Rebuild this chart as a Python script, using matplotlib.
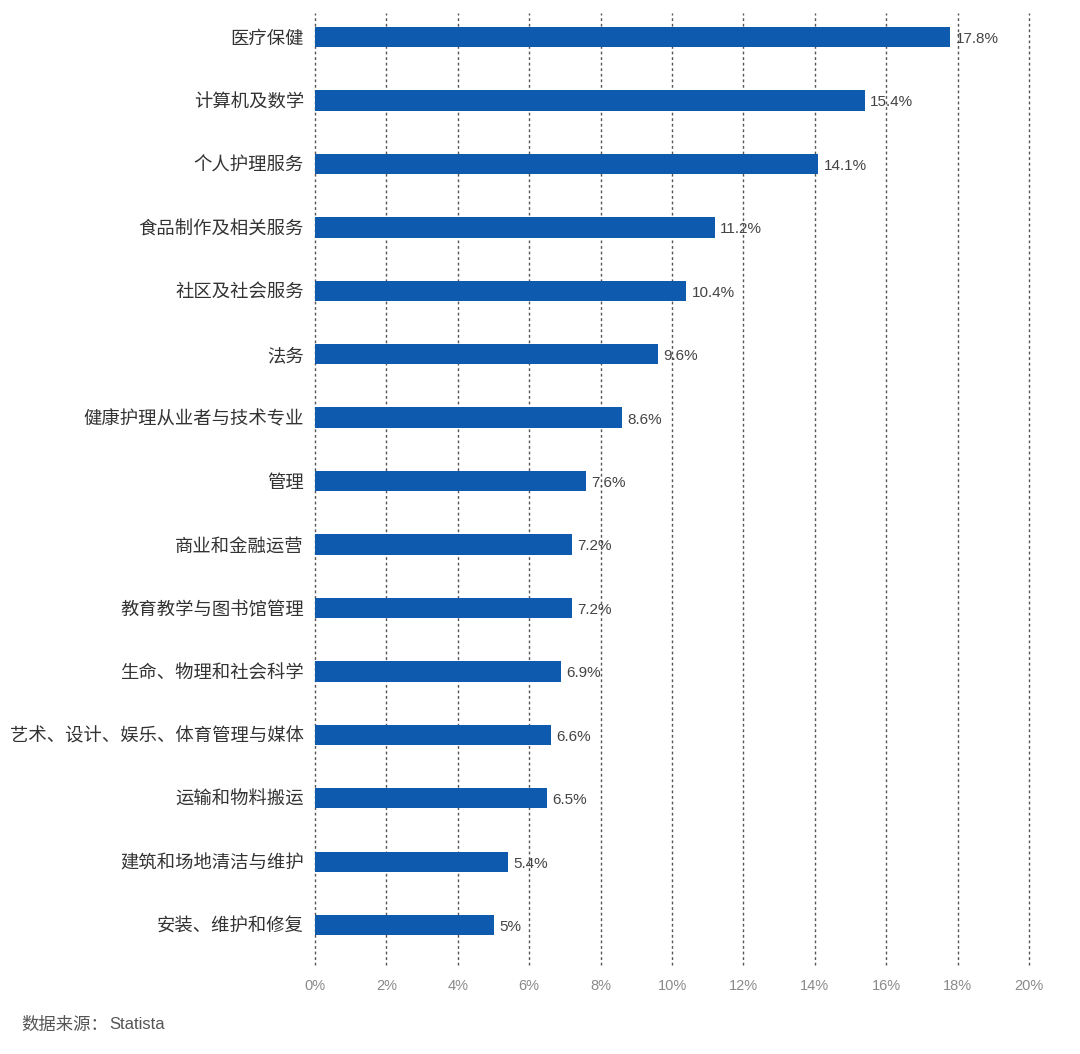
import matplotlib
matplotlib.use('Agg')
import matplotlib.pyplot as plt
import numpy as np

plt.rcParams['font.family'] = ['Noto Sans CJK SC', 'DejaVu Sans']

# Data
categories = ['医疗保健', '计算机及数学', '个人护理服务', '食品制作及相关服务', '社区及社会服务',
              '法务', '健康护理从业者与技术专业', '管理', '商业和金融运营', '教育教学与图书馆管理',
              '生命、物理和社会科学', '艺术、设计、娱乐、体育管理与媒体', '运输和物料搬运',
              '建筑和场地清洁与维护', '安装、维护和修复']
values = [17.8, 15.4, 14.1, 11.2, 10.4, 9.6, 8.6, 7.6, 7.2, 7.2, 6.9, 6.6, 6.5, 5.4, 5.0]
value_labels = ['17.8%', '15.4%', '14.1%', '11.2%', '10.4%', '9.6%', '8.6%', '7.6%', '7.2%',
                '7.2%', '6.9%', '6.6%', '6.5%', '5.4%', '5%']
xticks = [0, 2, 4, 6, 8, 10, 12, 14, 16, 18, 20]

fig = plt.figure(figsize=(10.8, 10.54), dpi=100)
ax = fig.add_axes([0.2917, 0.0844, 0.6611, 0.9033])

y = np.arange(len(categories))
ax.barh(y, values, height=0.32, color='#0e5aae', zorder=2)

for yi, v, lab in zip(y, values, value_labels):
    ax.text(v + 0.15, yi + 0.03, lab, va='center', ha='left', fontsize=11,
            family='Liberation Sans', color='#444444', zorder=3)

ax.set_xlim(0, 20)
ax.set_ylim(len(categories) - 1 + 0.63, -0.38)
ax.set_xticks(xticks)
ax.set_xticklabels([f'{t}%' for t in xticks], fontsize=10.5, color='#8a8a8a', family='Liberation Sans')
ax.set_yticks(y)
ax.set_yticklabels(categories, fontsize=13.2, color='#333333')

ax.grid(axis='x', linestyle=(0, (2, 2)), color='#555555', linewidth=1.0, zorder=1)
for gl in ax.get_xgridlines():
    gl.set_clip_on(False)
ax.tick_params(axis='both', length=0)
ax.tick_params(axis='x', pad=10)
ax.tick_params(axis='y', pad=8)
for s in ax.spines.values():
    s.set_visible(False)

fig.text(0.02, 0.028, '数据来源：', fontsize=12.5, color='#555555', ha='left', va='center')
fig.text(0.101, 0.028, 'Statista', fontsize=12, color='#555555', ha='left', va='center',
         family='Liberation Sans')

fig.savefig('out.png', dpi=100)
